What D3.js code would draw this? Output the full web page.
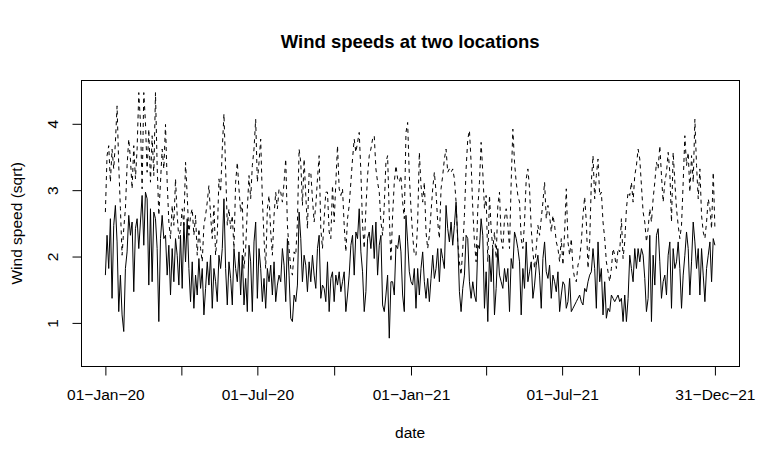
<!DOCTYPE html>
<html>
<head>
<meta charset="utf-8">
<script src="https://cdn.jsdelivr.net/npm/d3@7/dist/d3.min.js"></script>
<style>
  body { margin: 0; background: #fff; }
  text { font-family: "Liberation Sans", Arial, Helvetica, sans-serif; fill: #000; }
</style>
</head>
<body>
<div id="chart"></div>
<script>
// daily series read every 2nd day, starting 01-Jan-2020
const startDate = "2020-01-01";
const stepDays = 2;

// location A (solid line)
const siteA = [
  1.72,2.32,1.82,2.57,1.37,2.47,2.77,2.22,1.17,1.72, 1.12,0.87,1.82,2.07,2.62,2.32,2.52,1.47,2.42,2.57,
  2.12,2.52,2.92,2.17,2.97,2.87,1.57,2.72,1.62,2.67, 2.57,2.12,1.02,2.27,2.62,2.27,2.32,1.72,2.17,1.42,
  2.12,1.62,2.27,2.02,1.57,2.32,1.52,2.52,1.92,2.57, 1.82,1.32,1.92,1.22,1.72,1.42,1.97,1.52,1.82,1.12,
  1.52,1.92,1.57,2.02,1.22,1.82,1.62,1.32,2.02,1.82, 2.12,2.87,1.82,1.27,1.92,1.67,1.27,2.12,1.82,1.62,
  2.07,1.42,2.02,1.27,1.67,1.17,2.17,1.92,1.17,2.22, 2.52,1.37,2.12,1.82,1.32,1.67,1.22,1.82,1.62,1.87,
  1.42,1.92,1.32,1.57,1.72,1.62,2.12,1.87,1.32,2.27, 1.72,1.07,1.02,1.42,1.32,1.57,2.67,2.27,1.62,2.02,
  1.87,1.47,1.92,
  1.62,2.02,1.72,1.52,2.12,2.32,1.37,1.57,1.52,1.32, 1.92,1.17,1.67,1.77,1.32,1.72,1.57,1.77,1.47,1.62,
  1.77,1.17,1.42,1.72,2.17,2.32,1.72,2.37,2.27,2.72, 2.07,1.77,1.17,1.47,2.27,2.37,2.12,2.47,1.97,2.52,
  1.72,2.17,2.32,1.27,1.17,1.42,1.72,0.77,1.62,1.62, 1.42,2.17,2.12,2.32,2.07,1.42,1.17,2.62,2.22,1.77,
  1.62,1.57,1.82,
  1.22,1.82,1.42,1.82,2.07,1.62,1.37,1.67,1.32,1.67, 2.02,1.67,1.82,2.12,1.62,2.12,1.97,1.82,2.77,2.42,
  2.22,2.52,2.17,2.47,2.82,2.27,1.47,1.17,1.52,1.72, 2.32,2.27,1.62,1.37,1.62,1.42,1.32,2.17,2.12,2.57,
  2.32,1.22,1.77,1.02,2.02,1.62,2.12,1.12,1.52,2.12, 1.72,1.62,1.52,1.82,1.62,1.82,1.17,1.97,1.82,2.37,
  2.27,2.12,1.92,
  1.12,1.82,1.52,2.22,1.62,1.77,1.92,1.37,1.57,1.87, 2.02,1.72,1.22,1.97,2.22,1.77,1.67,1.87,1.37,1.72,
  1.62,1.47,1.77,1.17,1.42,1.62,1.57,1.22,1.32,1.67, 1.17,1.22,1.27,1.32,1.37,1.42,1.32,1.27,1.52,1.47,
  1.62,1.72,1.77,2.12,1.82,1.22,2.22,1.62,1.82,1.12, 1.62,1.07,1.22,1.17,1.42,1.37,1.32,1.37,1.42,1.32,
  1.37,1.02,1.42,
  1.02,1.37,2.02,1.82,1.62,2.12,1.82,2.12,1.92,2.12, 2.02,1.67,1.17,1.37,2.32,1.02,2.02,1.57,2.32,2.42,
  1.92,1.37,1.62,1.72,1.42,2.02,2.22,1.22,2.12,1.82, 1.92,2.22,1.82,1.22,1.72,2.02,2.37,2.12,1.42,1.92,
  2.52,2.22,1.82,2.12,1.42,2.12,1.72,1.32,1.82,2.02, 2.22,1.62,2.27,2.17
];

// location B (dashed line)
const siteB = [
  2.67,3.52,3.67,3.12,3.62,3.32,3.72,4.27,3.37,2.72, 2.02,2.42,2.72,3.37,3.77,3.47,3.02,3.67,3.17,3.62,
  4.47,4.02,3.02,4.47,4.02,3.27,3.92,3.12,3.82,3.22, 4.47,3.37,2.62,3.12,3.62,3.32,3.99,3.12,2.52,2.27,
  2.77,2.47,3.17,2.62,2.27,2.42,2.72,2.47,3.42,2.92, 2.32,2.62,2.72,2.32,2.62,2.02,2.42,2.12,1.92,2.47,
  2.62,2.82,3.07,2.62,2.27,2.77,2.02,2.32,3.17,2.97, 3.62,4.15,3.32,2.47,2.72,2.42,2.62,2.12,3.12,3.42,
  3.02,2.67,2.82,1.82,2.12,2.72,3.22,2.87,3.37,3.62, 4.07,3.12,3.42,3.77,2.87,2.27,1.82,2.72,2.92,2.37,
  2.02,2.62,2.97,2.72,3.02,2.97,2.82,3.12,3.47,2.47, 2.12,1.82,1.72,2.07,2.02,2.52,3.62,3.42,2.77,3.47,
  2.92,2.42,3.27,
  3.27,2.87,2.52,2.77,3.17,3.52,2.42,2.12,2.57,2.97, 2.97,2.37,2.27,3.07,2.52,3.12,3.67,3.02,2.92,3.02,
  2.47,2.07,2.57,2.77,3.12,3.47,3.77,3.57,3.72,3.87, 3.27,2.47,2.12,2.72,3.22,3.52,3.62,3.77,3.82,3.32,
  3.12,2.97,2.52,2.32,2.77,3.42,3.52,2.62,1.92,2.62, 3.12,3.37,3.17,3.12,3.22,2.82,2.57,3.87,4.02,3.22,
  2.72,2.32,2.02,
  2.02,2.52,3.57,3.07,2.82,3.12,2.37,2.12,2.32,2.67, 3.02,3.27,2.97,2.52,2.27,3.02,3.22,3.47,3.62,3.27,
  3.32,3.27,3.32,3.17,2.82,2.22,1.92,1.72,2.12,2.62, 3.32,3.77,3.90,3.42,2.72,2.22,1.92,2.72,3.12,3.72,
  3.27,2.72,2.92,1.92,2.92,2.42,2.12,2.37,1.97,2.77, 2.97,2.27,2.12,2.57,2.72,2.47,2.12,3.12,3.92,3.42,
  3.12,2.92,2.82,
  2.27,2.12,2.52,3.17,3.32,3.02,2.42,2.07,1.82,2.12, 2.47,2.32,2.57,2.82,3.12,2.57,2.77,2.62,2.37,2.62,
  2.47,2.22,2.12,1.92,2.27,1.87,2.37,3.02,2.22,2.02, 2.27,1.82,1.67,1.62,1.87,1.97,2.22,2.62,2.90,2.52,
  1.82,2.22,3.12,3.52,2.87,3.22,3.47,2.92,2.97,2.52, 2.27,1.92,1.77,1.62,1.82,2.12,2.02,1.82,2.12,2.07,
  2.57,1.97,2.22,
  2.72,2.97,2.92,3.12,2.82,3.22,3.37,3.62,3.47,3.07, 2.67,2.52,2.22,2.42,2.72,2.52,2.87,3.12,3.42,3.32,
  3.67,3.22,2.82,3.12,3.27,3.57,3.27,2.52,3.57,3.12, 2.72,2.47,2.27,2.47,3.12,3.82,3.37,3.57,2.97,3.52,
  3.12,4.07,3.37,2.87,3.32,2.62,2.37,2.27,2.52,2.87, 2.72,2.42,3.27,2.42
];

const tickDates = ["2020-01-01","2020-04-01","2020-07-01","2020-10-01","2021-01-01",
                   "2021-04-01","2021-07-01","2021-10-01","2021-12-31"];
const tickLabels = ["01\u2212Jan\u221220","","01\u2212Jul\u221220","","01\u2212Jan\u221221",
                    "","01\u2212Jul\u221221","","31\u2212Dec\u221221"];
const yTicks = [1, 2, 3, 4];
const yLimits = [0.5, 4.5];

const width = 759, height = 461;
const plot = { left: 81, right: 739.3, top: 80, bottom: 366.7 };
const fontSize = 15.5;

const parse = d3.utcParse("%Y-%m-%d");
const t0 = parse(startDate);
const dates = siteA.map((d, i) => d3.utcDay.offset(t0, i * stepDays));

// R style 4% padding on both axes
const xExt = d3.extent(dates);
const xPad = (xExt[1] - xExt[0]) * 0.04;
const x = d3.scaleUtc()
    .domain([new Date(+xExt[0] - xPad), new Date(+xExt[1] + xPad)])
    .range([plot.left, plot.right]);

const yPad = (yLimits[1] - yLimits[0]) * 0.04;
const y = d3.scaleLinear()
    .domain([yLimits[0] - yPad, yLimits[1] + yPad])
    .range([plot.bottom, plot.top]);

const svg = d3.select("#chart").append("svg")
    .attr("width", width)
    .attr("height", height);

const line = d3.line()
    .x((d, i) => x(dates[i]))
    .y(d => y(d));

svg.append("path")
    .datum(siteA)
    .attr("d", line)
    .attr("fill", "none")
    .attr("stroke", "#000")
    .attr("stroke-width", 1);

svg.append("path")
    .datum(siteB)
    .attr("d", line)
    .attr("fill", "none")
    .attr("stroke", "#000")
    .attr("stroke-width", 1)
    .attr("stroke-dasharray", "4,4");

// box
svg.append("rect")
    .attr("x", Math.round(plot.left) + 0.5)
    .attr("y", Math.round(plot.top) + 0.5)
    .attr("width", Math.round(plot.right) - Math.round(plot.left))
    .attr("height", Math.round(plot.bottom) - Math.round(plot.top) - 1)
    .attr("fill", "none")
    .attr("stroke", "#000")
    .attr("stroke-width", 1);

// x axis
const xAxis = svg.append("g")
    .attr("transform", `translate(0,${Math.round(plot.bottom) - 0.5})`)
    .call(d3.axisBottom(x)
        .tickValues(tickDates.map(parse))
        .tickFormat((d, i) => tickLabels[i])
        .tickSize(9)
        .tickSizeOuter(0));
xAxis.select(".domain").remove();
xAxis.selectAll(".tick line").attr("stroke", "#000");
xAxis.selectAll(".tick text")
    .attr("y", 28.5)
    .attr("dy", "0.35em")
    .style("font-size", fontSize + "px");

// y axis
const yAxis = svg.append("g")
    .attr("transform", `translate(${Math.round(plot.left) + 0.5},0)`)
    .call(d3.axisLeft(y)
        .tickValues(yTicks)
        .tickFormat(d3.format("d"))
        .tickSize(9)
        .tickSizeOuter(0));
yAxis.select(".domain").remove();
yAxis.selectAll(".tick line").attr("stroke", "#000");
yAxis.selectAll(".tick text")
    .attr("x", null)
    .attr("dy", null)
    .attr("text-anchor", "middle")
    .attr("transform", "translate(-28.5,0) rotate(-90)")
    .attr("dy", "0.35em")
    .style("font-size", fontSize + "px");

// titles
svg.append("text")
    .attr("x", (plot.left + plot.right) / 2)
    .attr("y", 42)
    .attr("dy", "0.35em")
    .attr("text-anchor", "middle")
    .style("font-weight", "bold")
    .style("font-size", "18.5px")
    .text("Wind speeds at two locations");

svg.append("text")
    .attr("x", (plot.left + plot.right) / 2)
    .attr("y", 433)
    .attr("dy", "0.35em")
    .attr("text-anchor", "middle")
    .style("font-size", fontSize + "px")
    .text("date");

svg.append("text")
    .attr("transform", `translate(17,${(plot.top + plot.bottom) / 2}) rotate(-90)`)
    .attr("dy", "0.35em")
    .attr("text-anchor", "middle")
    .style("font-size", fontSize + "px")
    .text("Wind speed (sqrt)");
</script>
</body>
</html>
